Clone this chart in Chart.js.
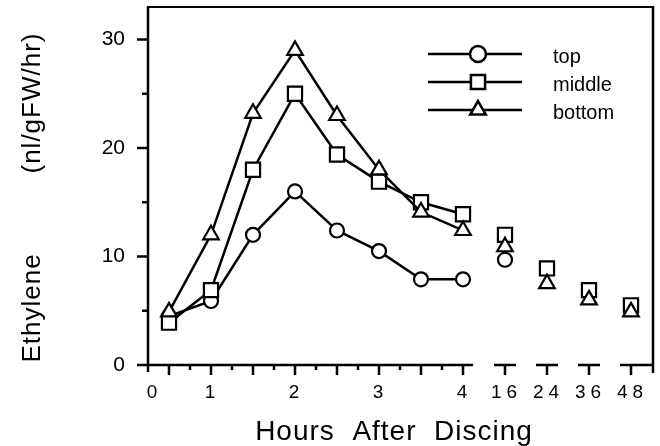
<!DOCTYPE html>
<html>
<head>
<meta charset="utf-8">
<script src="https://cdn.jsdelivr.net/npm/chart.js@4.4.1/dist/chart.umd.min.js"></script>
<style>
  html, body { margin: 0; padding: 0; background: #fff; }
  #wrap { width: 660px; height: 446px; }
</style>
</head>
<body>
<div id="wrap"><canvas id="ethyleneChart" width="660" height="446"></canvas></div>
<script>
// Sampling times, hours after discing
const earlyHours = [0.5, 1, 1.5, 2, 2.5, 3, 3.5, 4];
const lateHours = [16, 24, 36, 48];

// Ethylene production (nl/gFW/hr) per tissue position
const topEarly    = [4.5, 5.9, 12.0, 16.0, 12.4, 10.5, 7.9, 7.9];
const topLate     = [9.7, null, null, null];
const middleEarly = [3.9, 6.9, 18.0, 25.0, 19.4, 16.9, 15.0, 13.9];
const middleLate  = [12.0, 8.9, 6.9, 5.5];
const bottomEarly = [4.9, 12.0, 23.2, 29.0, 23.0, 18.0, 14.1, 12.4];
const bottomLate  = [10.9, 7.5, 6.0, 4.9];

const seriesNames = ['top', 'middle', 'bottom'];
const yTicks = [0, 10, 20, 30];
const xTickLabels = ['0', '1', '2', '3', '4', '16', '24', '36', '48'];

// the axis is broken after 4 h: late samples sit on evenly spaced slots
const AXIS_START = 0.25;
const LAST_EARLY = 4;
const lateSlot = i => LAST_EARLY + 0.5 * (i + 1);
const xTickPos = [AXIS_START, 1, 2, 3, 4].concat(lateHours.map((h, i) => lateSlot(i)));

const FONT = '"Liberation Sans", Arial, Helvetica, sans-serif';
const INK = '#000';

function points(early, late) {
    return earlyHours.map((h, i) => ({ x: h, y: early[i] }))
        .concat(lateHours.map((h, i) => ({ x: lateSlot(i), y: late[i] })));
}

function series(label, early, late, style, radius, order) {
    return {
        label: label,
        data: points(early, late),
        borderColor: '#000',
        borderWidth: 2.5,
        pointStyle: style,
        pointRadius: radius,
        pointBorderWidth: 2.2,
        pointBorderColor: '#000',
        pointBackgroundColor: '#fff',
        spanGaps: false,
        order: order,
        // no connecting line across the break or between late samples
        segment: {
            borderColor: c => c.p1DataIndex >= earlyHours.length ? 'rgba(0,0,0,0)' : '#000'
        }
    };
}

// frame, broken x axis, tick marks and axis titles
const axisFrame = {
    id: 'axisFrame',
    beforeDatasetsDraw(chart) {
        const { ctx, chartArea: a, scales: { x, y } } = chart;
        ctx.save();
        ctx.strokeStyle = '#000';
        ctx.lineWidth = 2.5;
        ctx.beginPath();
        ctx.moveTo(a.left, a.top - 1);
        ctx.lineTo(a.left, a.bottom + 7);
        ctx.moveTo(a.right - 1, a.top - 1);
        ctx.lineTo(a.right - 1, a.bottom + 8);
        ctx.moveTo(a.left - 5, a.bottom);
        ctx.lineTo(x.getPixelForValue(4.12), a.bottom);

        // quarter-hour ticks, longer on the half hours
        for (let v = AXIS_START + 0.25; v <= LAST_EARLY + 0.001; v += 0.25) {
            const px = x.getPixelForValue(v);
            const long = Math.abs(v * 2 - Math.round(v * 2)) < 0.01;
            ctx.moveTo(px, a.bottom);
            ctx.lineTo(px, a.bottom + (long ? 10 : 5));
        }

        // short axis pieces for the late samples
        lateHours.forEach((h, i) => {
            const px = x.getPixelForValue(lateSlot(i));
            const right = i === lateHours.length - 1 ? a.right - 1 : px + 11;
            ctx.moveTo(px - 11, a.bottom);
            ctx.lineTo(right, a.bottom);
            ctx.moveTo(px, a.bottom);
            ctx.lineTo(px, a.bottom + 10);
        });

        for (let v = 0; v <= 30; v += 5) {
            const py = y.getPixelForValue(v);
            ctx.moveTo(a.left, py);
            ctx.lineTo(a.left - (v % 10 === 0 ? 11 : 6), py);
        }
        ctx.stroke();

        ctx.lineWidth = 2;
        ctx.beginPath();
        ctx.moveTo(a.left - 1, a.top);
        ctx.lineTo(a.right, a.top);
        ctx.stroke();

        // x tick labels
        ctx.fillStyle = INK;
        ctx.font = '19px ' + FONT;
        ctx.textAlign = 'center';
        ctx.textBaseline = 'alphabetic';
        xTickLabels.forEach((t, i) => {
            const px = x.getPixelForValue(xTickPos[i]);
            const sp = t.length > 1 ? 5 : 0;
            ctx.letterSpacing = sp + 'px';
            ctx.fillText(t, px + sp / 2 + (i === 0 ? 4 : -1), a.bottom + 33);
        });
        ctx.letterSpacing = '1px';

        // axis titles
        ctx.font = '28px ' + FONT;
        ctx.fillText('Hours  After  Discing', 394, 440);

        ctx.font = '26px ' + FONT;
        ctx.translate(40, 0);
        ctx.rotate(-Math.PI / 2);
        ctx.fillText('Ethylene', -308, 0);
        ctx.fillText('(nl/gFW/hr)', -103, 0);
        ctx.restore();
    },
    afterDraw(chart) {
        // legend: marker sitting on a short line, label to the right
        const { ctx } = chart;
        const rows = [54, 82, 110];
        ctx.save();
        ctx.strokeStyle = '#000';
        ctx.font = '20px ' + FONT;
        ctx.textAlign = 'left';
        ctx.textBaseline = 'alphabetic';
        chart.data.datasets.forEach((ds, i) => {
            const yy = rows[i];
            ctx.lineWidth = 2.5;
            ctx.beginPath();
            ctx.moveTo(428, yy);
            ctx.lineTo(522, yy);
            ctx.stroke();
            ctx.fillStyle = '#fff';
            Chart.helpers.drawPoint(ctx, {
                pointStyle: ds.pointStyle,
                radius: ds.pointStyle === 'circle' ? 8 : ds.pointRadius,
                borderWidth: 2.2,
                rotation: 0
            }, 478, yy);
            ctx.fillStyle = INK;
            ctx.fillText(ds.label, 553, yy + 9);
        });
        ctx.restore();
    }
};

new Chart(document.getElementById('ethyleneChart'), {
    type: 'line',
    data: {
        datasets: [
            series(seriesNames[0], topEarly, topLate, 'circle', 7, 2),
            series(seriesNames[1], middleEarly, middleLate, 'rect', 10, 1),
            series(seriesNames[2], bottomEarly, bottomLate, 'triangle', 9, 0)
        ]
    },
    options: {
        animation: false,
        responsive: false,
        devicePixelRatio: 1,
        layout: { autoPadding: false, padding: { top: 7, right: 6, left: 0, bottom: 0 } },
        plugins: { legend: { display: false }, tooltip: { enabled: false } },
        scales: {
            x: {
                type: 'linear',
                min: AXIS_START,
                max: 6.274,
                grid: { display: false, drawTicks: false },
                border: { display: false },
                ticks: { display: false },
                afterFit: s => {
                    s.height = 81;
                    s.paddingLeft = 0;
                    s.paddingRight = 0;
                }
            },
            y: {
                min: 0,
                max: 33,
                grid: { display: false, drawTicks: false },
                border: { display: false },
                afterBuildTicks: s => { s.ticks = yTicks.map(v => ({ value: v })); },
                ticks: {
                    color: INK,
                    padding: 23,
                    font: { family: FONT, size: 21 }
                },
                afterFit: s => {
                    s.width = 148;
                    s.paddingTop = 0;
                    s.paddingBottom = 0;
                }
            }
        }
    },
    plugins: [axisFrame]
});
</script>
</body>
</html>
